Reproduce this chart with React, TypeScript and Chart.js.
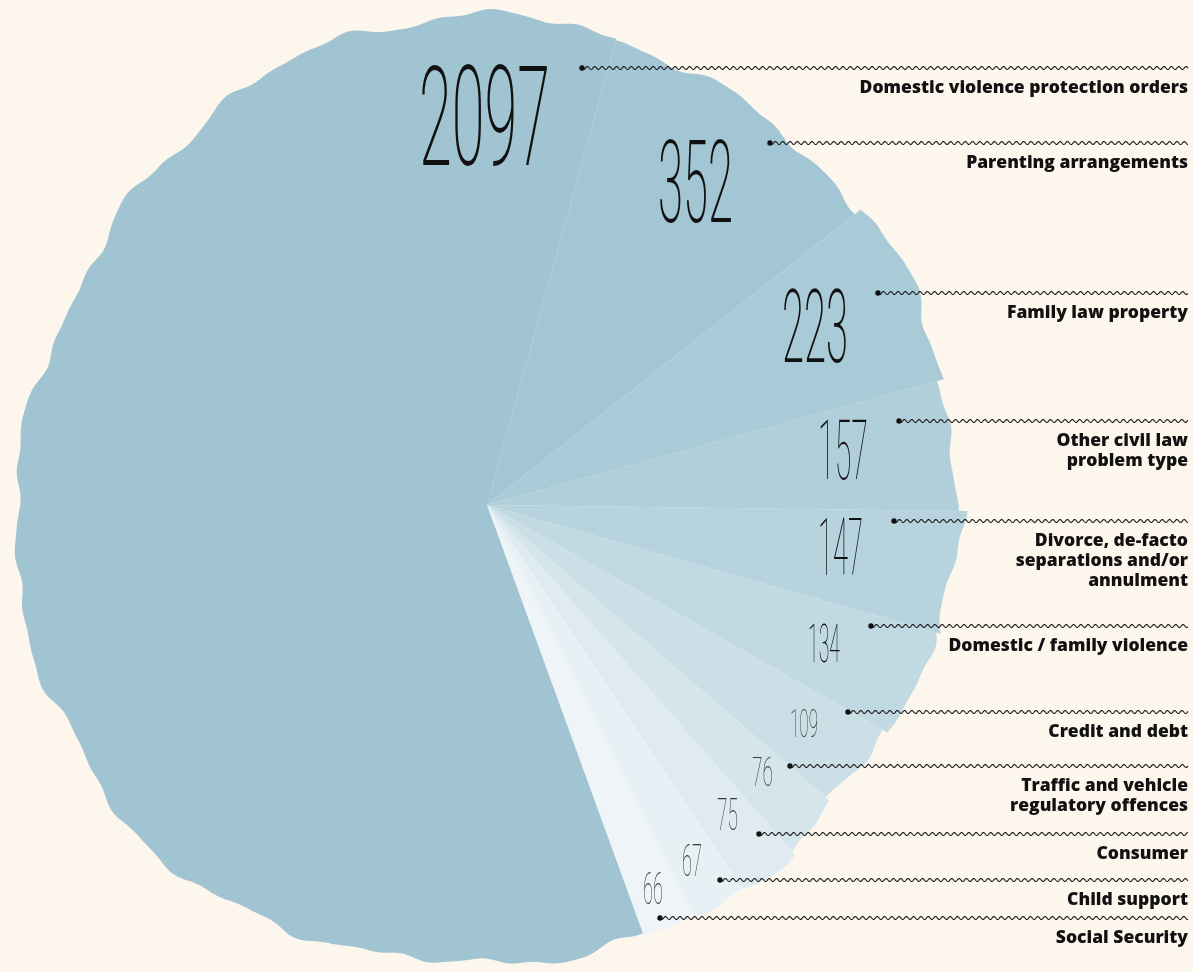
import React, { useEffect, useRef } from 'react';
import { Chart, registerables, ArcElement } from 'chart.js';

// ---------- data ----------
const categories = [
  'Parenting arrangements',
  'Family law property',
  'Other civil law problem type',
  'Divorce, de-facto separations and/or annulment',
  'Domestic / family violence',
  'Credit and debt',
  'Traffic and vehicle regulatory offences',
  'Consumer',
  'Child support',
  'Social Security',
  'Domestic violence protection orders',
];
const values = [352, 223, 157, 147, 134, 109, 76, 75, 67, 66, 2097];
const labelLines = [
  ['Parenting arrangements'],
  ['Family law property'],
  ['Other civil law', 'problem type'],
  ['Divorce, de-facto', 'separations and/or', 'annulment'],
  ['Domestic / family violence'],
  ['Credit and debt'],
  ['Traffic and vehicle', 'regulatory offences'],
  ['Consumer'],
  ['Child support'],
  ['Social Security'],
  ['Domestic violence protection orders'],
];

// ---------- styles ----------
const BG = '#fcf6ec';
const sliceColors = [
  '#a3c6d4', '#a9cbd7', '#b0cfda', '#b7d3de', '#c1d9e2',
  '#cbdfe7', '#d5e5ec', '#dfebf0', '#e7f0f4', '#eef4f7', '#a0c4d2',
];
// value label boxes [left, top, right, bottom]
const valueBoxes = [
  [658, 140, 733, 222],
  [782, 290, 848, 362],
  [818, 420, 868, 479],
  [818, 518, 863, 575],
  [808, 624, 840, 662],
  [790, 710, 818, 737],
  [752, 757, 773, 786],
  [717, 799, 738, 830],
  [682, 845, 702, 876],
  [643, 873, 663, 904],
  [419, 66, 550, 165],
];
// leader dot anchors [x, y]
const leaderAnchors = [
  [770, 143], [878, 293], [899, 421], [894, 521], [871, 626],
  [848, 712], [790, 766], [759, 834], [720, 880], [660, 918], [582, 68],
];
const RIGHT_EDGE = 1188;

// outline radius profile (every 15 degrees clockwise from top, px)
const outlineKnots = [
  493, 488, 481, 478, 475, 472, 470, 466, 461, 458, 459, 460,
  462, 462, 477, 484, 479, 478, 475, 468, 465, 474, 485, 492,
];
const BASE_R = 472;

function profile(t: number) {
  const twoPi = Math.PI * 2;
  const deg = ((((t % twoPi) + twoPi) % twoPi) * 180) / Math.PI;
  const n = outlineKnots.length;
  const pos = deg / 15;
  const i0 = Math.floor(pos) % n;
  const i1 = (i0 + 1) % n;
  const f = pos - Math.floor(pos);
  const s = (1 - Math.cos(Math.PI * f)) / 2;
  const base = outlineKnots[i0] * (1 - s) + outlineKnots[i1] * s;
  const wig =
    3.2 * Math.sin(t * 13 + 0.7) +
    2.6 * Math.sin(t * 23 + 2.1) +
    1.6 * Math.sin(t * 41 + 0.3) +
    0.8 * Math.sin(t * 67 + 1.7);
  return (base + wig) / BASE_R;
}

class WavyArc extends ArcElement {
  static id = 'wavyArc';
  draw(ctx: CanvasRenderingContext2D) {
    const p: any = (this as any).getProps(['x', 'y', 'startAngle', 'endAngle', 'outerRadius']);
    const opts: any = (this as any).options;
    const { x, y, startAngle, endAngle, outerRadius } = p;
    const span = endAngle - startAngle;
    if (span <= 0) return;
    const seedOff = 5 * Math.sin(startAngle * 7.3 + 1.1);
    ctx.save();
    ctx.beginPath();
    ctx.moveTo(x, y);
    const steps = Math.max(10, Math.ceil(span / 0.003));
    for (let i = 0; i <= steps; i++) {
      const a = startAngle + (span * i) / steps;
      const t = a + Math.PI / 2;
      const r = outerRadius * profile(t) + seedOff;
      ctx.lineTo(x + r * Math.cos(a), y + r * Math.sin(a));
    }
    ctx.closePath();
    ctx.fillStyle = opts.backgroundColor;
    ctx.fill();
    if (opts.borderWidth) {
      ctx.strokeStyle = opts.borderColor;
      ctx.lineWidth = opts.borderWidth;
      ctx.lineJoin = 'round';
      ctx.stroke();
    }
    ctx.restore();
  }
}

Chart.register(...registerables, WavyArc as any);
(Chart.defaults as any).datasets.pie.dataElementType = 'wavyArc';

function drawWavy(ctx: CanvasRenderingContext2D, x0: number, x1: number, y: number) {
  ctx.beginPath();
  for (let x = x0; x <= x1; x += 0.5) {
    const yy = y + 1.5 * Math.sin(((x - x0) / 7.3) * Math.PI * 2);
    if (x === x0) ctx.moveTo(x, yy);
    else ctx.lineTo(x, yy);
  }
  ctx.stroke();
}

const annotations = {
  id: 'annotations',
  afterDraw(chart: any) {
    const ctx: CanvasRenderingContext2D = chart.ctx;
    const labels: string[] = chart.data.labels;
    const data: number[] = chart.data.datasets[0].data;
    ctx.save();
    data.forEach((v, i) => {
      const [l, t, r, b] = valueBoxes[i];
      const txt = String(v);
      const h = b - t;
      const fs = h / 0.711;
      ctx.font = `${i === 10 || i < 2 ? 200 : 100} ${fs}px Roboto`;
      const w = ctx.measureText(txt).width;
      const sx = (r - l) / w;
      ctx.save();
      ctx.translate(l, b);
      ctx.scale(sx, 1);
      ctx.fillStyle = i >= 5 && i <= 9 ? '#3a3a3a' : '#111';
      ctx.textBaseline = 'alphabetic';
      ctx.textAlign = 'left';
      ctx.fillText(txt, 0, 0);
      ctx.restore();
    });
    ctx.strokeStyle = '#1a1a1a';
    ctx.lineWidth = 1.1;
    ctx.fillStyle = '#111';
    labels.forEach((_, i) => {
      const [ax, ay] = leaderAnchors[i];
      drawWavy(ctx, ax, RIGHT_EDGE, ay);
      ctx.beginPath();
      ctx.arc(ax, ay, 2.7, 0, Math.PI * 2);
      ctx.fill();
      ctx.font = '800 17.5px "Open Sans"';
      ctx.textAlign = 'right';
      ctx.textBaseline = 'middle';
      labelLines[i].forEach((line, k) => {
        ctx.fillText(line, RIGHT_EDGE, ay + 20.5 + k * 20);
      });
    });
    ctx.restore();
  },
};

export default function App() {
  const ref = useRef<HTMLCanvasElement | null>(null);
  useEffect(() => {
    if (!ref.current) return;
    const chart = new Chart(ref.current, {
      type: 'pie',
      data: {
        labels: categories,
        datasets: [
          {
            data: values,
            backgroundColor: sliceColors,
            borderWidth: 0,
            radius: BASE_R,
          } as any,
        ],
      },
      options: {
        animation: false,
        responsive: false,
        devicePixelRatio: 1,
        rotation: 15.5,
        layout: { padding: { left: 0, right: 219, top: 38, bottom: 0 } },
        plugins: {
          legend: { display: false },
          tooltip: { enabled: false },
        },
      } as any,
      plugins: [annotations],
    });
    return () => chart.destroy();
  }, []);
  return (
    <div style={{ position: 'fixed', left: 0, top: 0, width: 1193, height: 972, background: BG, overflow: 'hidden' }}>
      <canvas ref={ref} width={1193} height={972} style={{ display: 'block' }} />
    </div>
  );
}
